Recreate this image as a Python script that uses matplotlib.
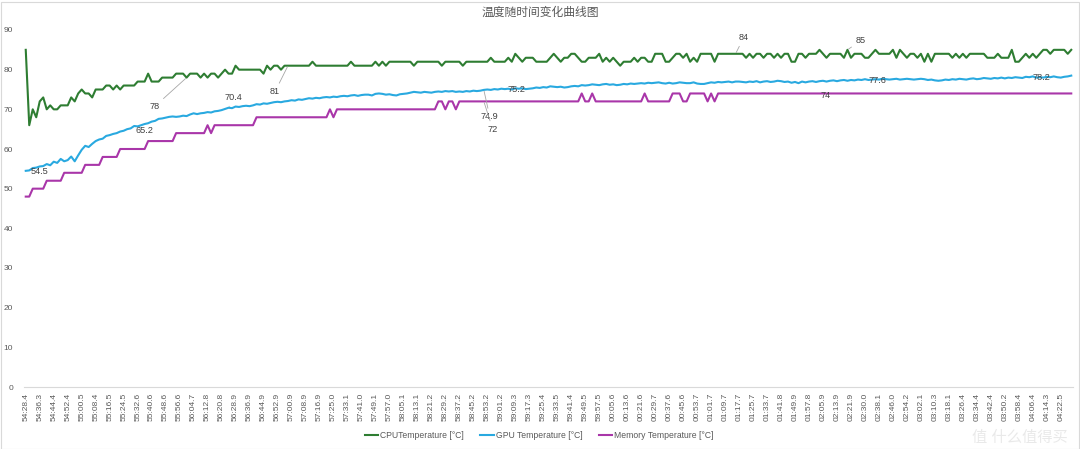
import numpy as np
import matplotlib
matplotlib.use("Agg")
import matplotlib.pyplot as plt
from matplotlib.patches import Rectangle

plt.rcParams['font.family'] = ['Liberation Sans', 'Noto Sans CJK SC', 'DejaVu Sans']

# 数据（约 2 秒一个采样点，共 300 个）
cpu = [85, 66, 70, 68, 72, 73, 70, 71, 70, 70,
       71, 71, 71, 73, 72, 74, 75, 74, 74, 73,
       75, 75, 75, 76, 76, 75, 76, 75, 76, 76,
       76, 76, 77, 77, 77, 79, 77, 77, 77, 78,
       78, 78, 78, 79, 79, 79, 78, 79, 79, 79,
       78, 79, 78, 79, 79, 78, 79, 80, 79, 79,
       81, 80, 80, 80, 80, 80, 80, 80, 79, 81,
       80, 81, 81, 80, 81, 81, 81, 81, 81, 81,
       81, 81, 82, 81, 81, 81, 81, 81, 81, 81,
       81, 81, 81, 82, 81, 81, 81, 81, 81, 81,
       82, 81, 82, 81, 82, 82, 82, 82, 82, 82,
       82, 81, 82, 82, 82, 82, 82, 82, 82, 81,
       82, 82, 82, 82, 82, 81, 82, 82, 82, 82,
       82, 82, 82, 83, 82, 82, 82, 82, 83, 82,
       84, 83, 82, 83, 83, 83, 82, 82, 82, 82,
       83, 84, 83, 82, 83, 83, 84, 84, 83, 82,
       82, 83, 83, 83, 84, 82, 83, 82, 83, 82,
       81, 82, 82, 82, 83, 82, 83, 83, 82, 82,
       84, 84, 84, 82, 82, 83, 84, 84, 83, 84,
       82, 83, 82, 84, 84, 84, 84, 82, 84, 84,
       84, 84, 84, 84, 84, 84, 83, 84, 83, 84,
       84, 83, 84, 84, 83, 84, 83, 84, 84, 82,
       82, 84, 84, 83, 84, 84, 84, 85, 84, 83,
       84, 84, 84, 84, 83, 85, 83, 84, 84, 84,
       83, 83, 84, 85, 84, 84, 84, 84, 85, 83,
       85, 84, 83, 84, 84, 83, 84, 82, 84, 82,
       84, 84, 84, 84, 84, 83, 84, 83, 84, 83,
       84, 84, 84, 84, 84, 83, 83, 83, 84, 83,
       83, 83, 85, 82, 82, 83, 84, 83, 84, 83,
       84, 85, 85, 84, 85, 85, 85, 85, 84, 85]

gpu = [54.5, 54.6, 55.2, 55.3, 55.6, 55.7, 56.2, 55.9, 56.8, 56.5,
       57.5, 56.9, 57.2, 58.1, 56.9, 58.4, 59.8, 60.8, 60.5, 61.3,
       62.0, 62.4, 62.6, 63.3, 63.5, 63.8, 64.0, 64.4, 64.6, 65.0,
       65.2, 65.8, 65.7, 66.0, 66.3, 66.5, 66.9, 67.1, 67.6, 67.7,
       67.9, 68.1, 68.2, 68.1, 68.2, 68.4, 68.3, 68.7, 69.0, 68.8,
       69.0, 69.1, 69.3, 69.2, 69.5, 69.6, 69.8, 70.1, 70.4, 70.3,
       70.7, 70.6, 70.8, 70.9, 70.8, 71.0, 71.3, 71.2, 71.5, 71.4,
       71.6, 71.8, 71.9, 71.8, 72.0, 72.1, 72.3, 72.2, 72.5, 72.4,
       72.6, 72.8, 72.7, 72.9, 72.8, 73.0, 73.1, 73.0, 73.2, 73.1,
       73.3, 73.4, 73.3, 73.5, 73.6, 73.4, 73.6, 73.7, 73.7, 73.5,
       73.9, 74.0, 73.9, 73.7, 73.8, 73.6, 73.5, 73.8, 73.9, 74.0,
       74.2, 74.4, 74.3, 74.2, 74.4, 74.3, 74.2, 74.4, 74.5, 74.4,
       74.6, 74.5, 74.6, 74.4, 74.5, 74.4, 74.6, 74.5, 74.7, 74.6,
       74.7, 74.9, 75.0, 74.9, 75.1, 75.0, 75.2, 75.1, 75.2, 75.0,
       75.3, 75.2, 75.3, 75.1, 75.2, 75.3, 75.5, 75.4, 75.6, 75.5,
       75.8, 75.7, 75.6, 75.7, 75.5, 75.6, 75.8, 75.9, 75.8, 76.1,
       76.0, 76.1, 76.3, 76.2, 76.1, 76.3, 76.4, 76.2, 76.3, 76.1,
       76.2, 76.4, 76.3, 76.5, 76.4, 76.5, 76.6, 76.5, 76.7, 76.6,
       76.7, 76.8, 76.6, 76.5, 76.7, 76.5, 76.6, 76.8, 76.7, 76.6,
       76.6, 76.8, 76.5, 76.4, 76.4, 76.6, 76.8, 76.7, 76.9, 76.8,
       76.9, 77.0, 76.8, 77.0, 77.0, 76.9, 76.8, 77.0, 76.9, 77.1,
       76.8, 77.0, 77.1, 76.9, 77.0, 77.2, 77.1, 76.9, 77.0, 76.7,
       76.9, 76.6, 77.0, 76.8, 77.0, 77.1, 76.9, 77.1, 77.2, 77.0,
       77.2, 77.3, 77.1, 77.3, 77.4, 77.2, 77.4, 77.3, 77.5, 77.4,
       77.6, 77.4, 77.5, 77.6, 77.5, 77.7, 77.6, 77.5, 77.6, 77.7,
       77.5, 77.6, 77.7, 77.6, 77.5, 77.6, 77.7, 77.6, 77.4, 77.5,
       77.3, 77.2, 77.3, 77.5, 77.4, 77.6, 77.5, 77.7, 77.6, 77.5,
       77.7, 77.8, 77.6, 77.7, 77.9, 77.8, 77.7, 77.9, 77.8, 78.0,
       77.8, 78.0, 77.9, 78.1, 78.0, 77.9, 78.2, 78.1, 78.3, 78.0,
       78.1, 78.0, 78.2, 78.1, 78.3, 78.1, 78.0, 78.2, 78.3, 78.5]

mem = ([48] * 2 + [50] * 4 + [52] * 5 + [54] * 6 + [56] * 5 + [58] * 5
       + [60] * 8 + [62] * 8 + [64] * 9 + [66, 64] + [66] * 12 + [68] * 21
       + [70, 68] + [70] * 29
       + [72, 72, 70, 72, 72, 70, 72] + [72] * 34
       + [74, 72, 72, 74] + [72] * 14 + [74] + [72] * 7 + [74] * 3
       + [72, 72] + [74] * 5 + [72, 74, 72] + [74] * 102)

tick_labels = ['54:28.4', '54:36.3', '54:44.4', '54:52.4', '55:00.5', '55:08.4', '55:16.5',
               '55:24.5', '55:32.6', '55:40.6', '55:48.6', '55:56.6', '56:04.7', '56:12.8',
               '56:20.8', '56:28.9', '56:36.9', '56:44.9', '56:52.9', '57:00.9', '57:08.9',
               '57:16.9', '57:25.0', '57:33.1', '57:41.0', '57:49.1', '57:57.0', '58:05.1',
               '58:13.1', '58:21.2', '58:29.2', '58:37.2', '58:45.2', '58:53.2', '59:01.2',
               '59:09.3', '59:17.3', '59:25.4', '59:33.5', '59:41.4', '59:49.5', '59:57.5',
               '00:05.6', '00:13.6', '00:21.6', '00:29.7', '00:37.6', '00:45.6', '00:53.7',
               '01:01.7', '01:09.7', '01:17.7', '01:25.7', '01:33.7', '01:41.8', '01:49.9',
               '01:57.8', '02:05.9', '02:13.9', '02:21.9', '02:30.0', '02:38.1', '02:46.0',
               '02:54.2', '03:02.1', '03:10.3', '03:18.1', '03:26.4', '03:34.4', '03:42.4',
               '03:50.2', '03:58.4', '04:06.4', '04:14.3', '04:22.5']
tick_step = 4

# 数据标签: (点序号, 文本偏移像素, 是否有引导线)
cpu_labels = [(46, (-32, -29), True), (75, (-13, -26), True),
              (203, (8, 16), True), (235, (13, 9), True)]
gpu_labels = [(0, (14, -1), False), (30, (14, -2), False), (58, (5, 10), True),
              (131, (6, -27), True), (136, (15, -1), False),
              (240, (13, -1), False), (286, (16, -1), False)]
mem_labels = [(131, (9, -28), True), (226, (10, -2), False)]

x = np.arange(len(cpu))

fig = plt.figure(figsize=(10.8, 4.49), dpi=100)
ax = fig.add_axes([24 / 1080, 1 - 387 / 449, 1049 / 1080, 357 / 449])

c_cpu = '#2e7d32'
c_gpu = '#29a9e0'
c_mem = '#a936a9'
ax.plot(x, cpu, color=c_cpu, lw=1.5, label='CPUTemperature [°C]')
ax.plot(x, gpu, color=c_gpu, lw=1.5, label='GPU Temperature [°C]')
ax.plot(x, mem, color=c_mem, lw=1.5, label='Memory Temperature [°C]')

for series, labels in ((cpu, cpu_labels), (gpu, gpu_labels), (mem, mem_labels)):
    for idx, off, leader in labels:
        v = series[idx]
        ap = dict(arrowstyle='-', color='#a6a6a6', lw=0.6, shrinkA=1, shrinkB=1) if leader else None
        ax.annotate('%g' % v, (idx, v), xytext=off, textcoords='offset pixels',
                    ha='center', va='center', fontsize=6.6, color='#404040',
                    arrowprops=ap)

ax.set_xlim(-0.5, len(cpu) - 0.5)
ax.set_ylim(0, 90)
ax.set_yticks(range(0, 91, 10))
ax.set_xticks(x[::tick_step])
ax.set_xticklabels(tick_labels, rotation=90)
ax.tick_params(axis='both', length=0, labelsize=6, colors='#595959')
ax.tick_params(axis='x', pad=4)
ax.tick_params(axis='y', pad=8)
for s in ['top', 'right', 'left']:
    ax.spines[s].set_visible(False)
ax.spines['bottom'].set_color('#d9d9d9')
ax.spines['bottom'].set_linewidth(0.8)

fig.suptitle('温度随时间变化曲线图', x=540 / 1080, y=1 - 13 / 449, va='center',
             fontsize=8.5, color='#595959')

fig.legend(loc='center', bbox_to_anchor=(539 / 1080, 1 - 436 / 449), ncol=3, frameon=False,
           fontsize=6.2, handlelength=1.6, handletextpad=0.2, columnspacing=1.9,
           labelcolor='#595959')

# 图表外框和水印
fig.patches.append(Rectangle((0.5 / 1080, 0.5 / 449), 1078 / 1080, 447 / 449, transform=fig.transFigure,
                             fill=False, edgecolor='#d9d9d9', lw=0.8))
fig.text(1068 / 1080, 1 - 438 / 449, '值 什么值得买', ha='right', va='center',
         fontsize=11, color='#e4e4e4', alpha=0.8)

fig.savefig('out.png', dpi=100)
